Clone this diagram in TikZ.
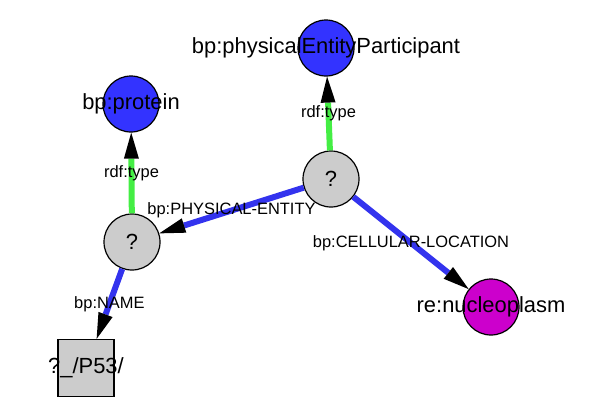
\documentclass[tikz,border=0pt]{standalone}
\usepackage{fontspec}
\setmainfont{Liberation Sans}
\usetikzlibrary{arrows.meta}
\definecolor{nodeblue}{RGB}{51,51,255}
\definecolor{nodemagenta}{RGB}{204,0,204}
\definecolor{nodegray}{RGB}{204,204,204}
\definecolor{edgeblue}{RGB}{51,51,238}
\definecolor{edgegreen}{RGB}{68,238,68}
\begin{document}
\begin{tikzpicture}[x=1bp, y=-1bp,
  res/.style={circle, draw, line width=1.2bp, minimum size=56bp, inner sep=0pt, font=\fontsize{22}{25}\selectfont},
  lit/.style={rectangle, draw, fill=nodegray, line width=1.2bp, minimum width=56bp, minimum height=57bp, inner sep=0pt},
  nodetext/.style={font=\fontsize{22}{25}\selectfont, inner sep=0pt},
  rel/.style={line width=6bp, -{Triangle[length=26bp, width=15bp, line width=0pt, color=black, fill=black]}},
  reltext/.style={midway, text=black, font=\fontsize{16.5}{19}\selectfont, inner sep=0pt}]
  \useasboundingbox (0,0) rectangle (600,401);
  % resources
  \node[res, fill=nodeblue, label={[nodetext]center:{bp:protein}}] (protein) at (131,104) {};
  \node[res, fill=nodeblue, label={[nodetext]center:{bp:physicalEntityParticipant}}] (participant) at (326,48) {};
  \node[res, fill=nodemagenta, label={[nodetext]center:{re:nucleoplasm}}] (location) at (491,307) {};
  \node[res, fill=nodegray] (part) at (331,179) {?};
  \node[res, fill=nodegray] (entity) at (132,242) {?};
  \node[lit, label={[nodetext]center:{?\_/P53/}}] (name) at (86,368) {};
  % relations
  \draw[rel, edgegreen] (entity) -- (protein) node[reltext] {rdf:type};
  \draw[rel, edgegreen] (part) -- (participant) node[reltext] {rdf:type};
  \draw[rel, edgeblue] (part) -- (entity) node[reltext] {bp:PHYSICAL-ENTITY};
  \draw[rel, edgeblue] (part) -- (location) node[reltext] {bp:CELLULAR-LOCATION};
  \draw[rel, edgeblue] (entity) -- (name) node[reltext] {bp:NAME};
\end{tikzpicture}
\end{document}
